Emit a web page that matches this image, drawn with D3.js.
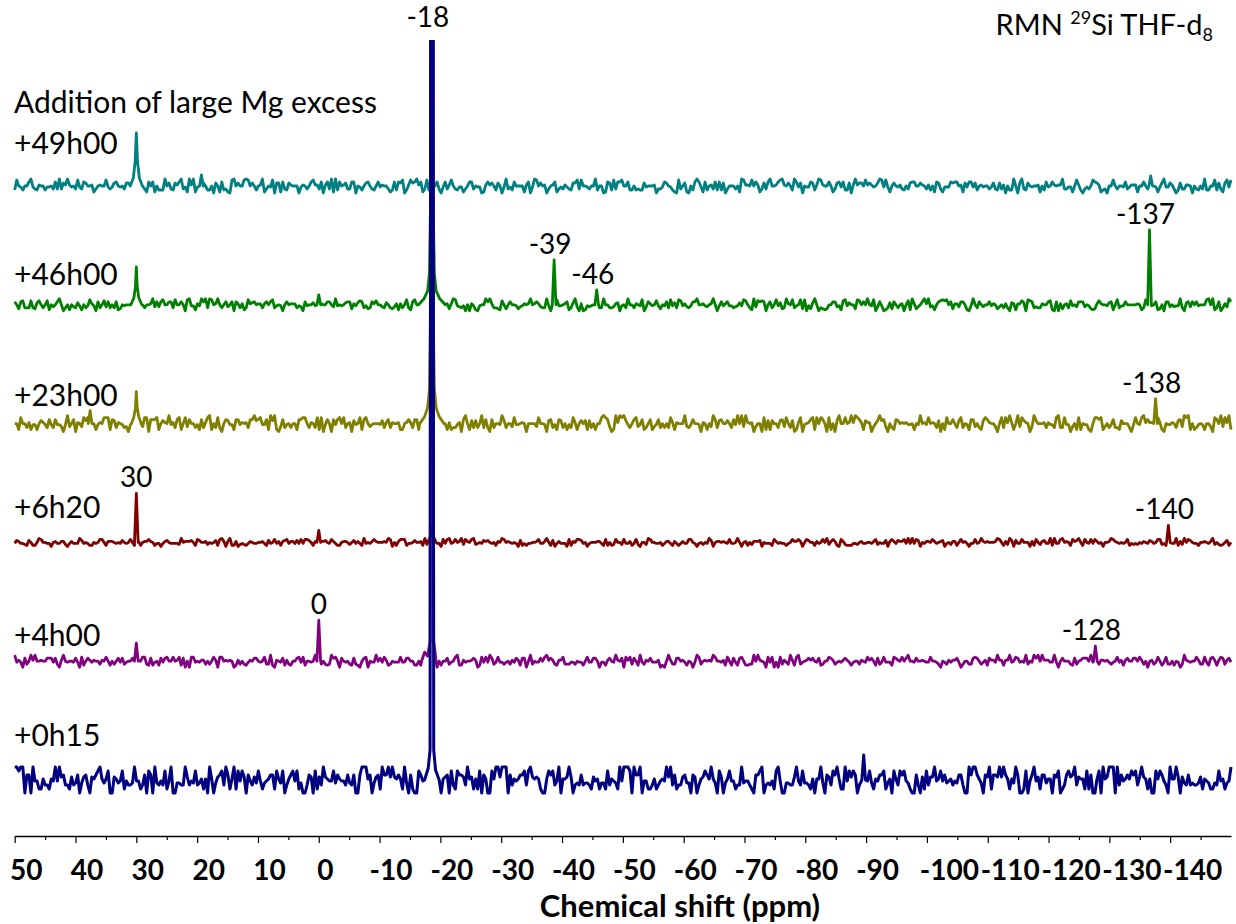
<!DOCTYPE html>
<html>
<head>
<meta charset="utf-8">
<script src="https://cdn.jsdelivr.net/npm/d3@7"></script>
<style>
  body { margin: 0; background: #fff; }
  svg { display: block; }
</style>
</head>
<body>
<svg id="chart"></svg>
<script>
// ---- data ----
const traces = ["+49h00", "+46h00", "+23h00", "+6h20", "+4h00", "+0h15"];
const ppmRange = [50, -150];
const tickValues = [50, 40, 30, 20, 10, 0, -10, -20, -30, -40, -50, -60, -70, -80, -90, -100, -110, -120, -130, -140];
const minorTicks = [45, 35, 25, 15, 5, -5, -15, -25, -35, -45, -55, -65, -75, -85, -95, -105, -115, -125, -135, -145];

// baseline noise, evenly spaced from 50 to -150 ppm (intensity units)
const noise49 = [
  -4,6,0,-1,-4,0,0,4,7,-1,-3,-4,1,0,0,-4,-1,-1,0,-3, 4,-3,7,-3,3,1,7,1,-1,0,-3,6,-1,-3,4,3,0,0,1,-6,
  -3,0,1,0,0,6,-1,-3,-1,3,4,0,-1,0,-3,3,3,6,7,6, 0,6,-7,0,-3,-6,4,0,4,-6,0,-4,-4,-4,7,0,3,-3,-4,3,
  1,4,7,-3,-1,-6,7,1,7,-6,-1,0,3,3,0,-4,-4,0,-7,3, 0,-6,4,-4,-3,-6,-7,6,7,0,3,0,0,6,7,6,0,3,0,-4,
  0,1,7,-6,-3,0,-1,6,-7,3,3,-6,4,-3,-4,3,1,0,0,0, -7,-1,1,0,-3,0,4,6,1,1,-3,4,-7,1,4,-3,7,-6,7,-4,
  4,0,1,3,-3,-3,4,4,-7,0,-1,-4,0,3,4,0,-3,-4,0,4, -1,1,0,0,-3,-6,-4,4,-4,4,3,6,-7,-4,1,6,3,4,7,1,
  4,-6,-3,6,-4,0,0,0,4,-3,-7,-1,4,-3,1,6,0,-3,-4,-1, -1,-6,-3,0,4,4,-3,0,-1,-1,-7,-6,1,4,1,3,0,-4,3,0,
  -7,-1,7,-3,-1,-4,4,0,0,0,0,-6,1,4,-7,-1,7,6,0,3, 0,1,-7,-3,0,1,4,-6,-3,-1,-3,1,-1,-3,-4,3,3,6,-3,6,
  0,0,-1,-3,0,0,7,-4,0,0,-7,-6,4,3,-4,6,-3,4,4,6, 0,0,4,-4,-4,0,-4,-3,-4,-4,3,-1,0,0,0,1,-7,-3,-3,-1,
  4,3,0,-1,-4,-6,-7,6,-3,0,3,-6,-7,0,-4,4,7,4,-1,-6, 4,-4,0,1,-3,4,-4,4,-4,3,-7,-3,0,0,0,-3,0,-6,7,6,
  1,1,0,6,0,4,1,-6,-3,3,-3,4,7,0,0,1,4,6,7,1, 0,3,0,-4,7,4,-1,3,-7,0,-1,-1,4,3,-4,1,7,6,1,0,
  0,4,0,-6,-3,3,4,-1,4,-4,-4,3,-7,1,7,1,3,3,0,6, 1,3,1,-1,0,3,7,6,-1,6,-1,-6,0,3,0,-1,1,-3,-4,0,
  -3,3,4,4,0,0,3,1,0,-3,1,-4,0,-6,4,3,-3,-6,-1,-1, -1,4,3,4,4,0,1,-6,3,-1,4,4,-1,3,-4,0,1,-1,0,0,
  -3,-1,3,-3,-4,3,-3,1,-7,0,-4,-4,7,0,-7,3,7,-3,-4,3, 0,-1,0,0,1,-6,0,-4,4,-1,0,4,1,0,1,1,7,-3,-3,-1,
  -1,-6,0,6,1,-4,-7,-3,-1,-3,0,6,4,3,1,-6,-4,-3,-7,0, 0,6,0,-3,0,0,-1,4,-3,-1,1,1,1,-6,0,0,4,0,-3,4,
  -4,0,-1,-6,-1,3,7,-1,-1,3,1,-3,-7,-4,3,-3,-3,1,1,0, -7,0,-3,-4,0,-3,7,-4,-4,0,0,6,-4,3,-3,-6,3,6,-1,6
];
const noise46 = [
  3,0,-4,3,4,-3,-3,-3,4,-3,-4,2,4,0,-3,0,4,-5,0,-2, 0,3,6,0,-6,-3,0,-5,0,-2,-3,2,-1,-5,0,-3,-1,5,1,-1,
  -6,3,-3,0,4,-2,3,-3,0,-3,3,-5,-4,0,-1,0,0,0,-3,5, 1,1,1,0,-3,0,0,1,6,-2,3,-2,3,5,0,0,3,3,-3,5,
  0,0,3,0,-6,5,6,-1,-1,-5,1,-1,6,3,6,-3,6,5,0,1, 6,0,-3,0,3,-2,0,3,-6,3,1,-3,1,-5,-3,5,1,2,3,0,
  1,1,-3,1,3,0,3,5,-3,-1,0,-1,-6,0,3,0,1,1,1,-3, -1,-2,-6,3,-1,0,0,2,-1,0,0,1,0,0,3,3,0,-2,6,-1,
  0,-1,0,2,3,3,-4,1,-1,2,4,3,-3,-1,-4,-3,3,1,4,0, 0,-2,-3,2,0,-3,-4,-2,1,-5,1,-3,0,5,-3,-5,3,5,0,-3,
  -3,0,3,0,0,1,1,0,1,3,-1,0,6,1,-4,1,6,5,-1,-2, -3,-1,-6,0,-6,1,-1,-5,-6,-1,0,0,6,3,6,1,-3,-3,-4,-5,
  4,0,-4,0,3,0,0,-1,-4,-2,-1,1,0,1,6,0,1,3,1,-2, -3,-3,6,-1,-6,-1,0,5,-1,-1,0,1,3,-5,-3,2,6,-2,-6,1,
  -6,-5,-1,-2,-1,0,0,5,-3,-3,6,0,0,-3,-3,-2,1,2,-6,-1, 0,-3,6,0,0,-3,1,0,-1,5,-6,-2,3,1,-1,0,4,-1,-4,0,
  -1,3,-3,5,-1,2,-3,5,4,-1,1,-2,-3,-1,3,3,6,0,0,1, -1,-2,0,1,6,0,-6,-1,3,-1,1,3,-1,-1,-3,-2,-1,2,-1,5,
  4,0,-3,-5,6,-2,4,3,4,3,-6,0,3,-3,0,5,-1,2,-4,-3, 6,1,0,5,-3,-1,0,5,-4,5,-6,-1,-4,2,6,0,-6,-3,-4,-5,
  -4,0,0,3,3,-2,-1,-5,4,5,-1,2,0,0,-4,5,4,0,3,0, 6,0,-1,5,-6,-2,3,-1,-6,-5,-3,2,-4,3,0,-3,0,1,-6,0,
  4,-5,6,1,-4,-2,0,3,6,1,6,-2,-1,-5,0,3,4,5,4,5, 0,3,-4,1,1,-2,3,3,0,-5,-6,-1,6,0,-3,3,0,-2,0,0,
  3,-1,1,0,-4,-2,0,-3,1,-3,-6,2,1,-5,1,1,4,2,-6,5, 4,3,-3,-2,-3,-3,1,0,0,3,4,-5,-6,3,-6,1,-4,0,1,-3,
  4,-1,0,-2,3,3,3,-2,0,-1,-4,-5,-4,1,4,1,0,0,-1,2, 3,-5,0,5,-3,-1,-1,3,0,0,0,0,0,1,0,-5,-3,5,0,0,
  -1,0,3,-5,-4,0,-6,3,3,-2,0,-2,-1,-1,6,-3,-6,2,3,-2, 3,0,3,-1,0,0,0,5,6,0,6,-5,-3,3,-6,-3,1,-2,6,3
];
const noise23 = [
  0,0,-6,6,0,0,-4,1,-6,-1,-1,-6,0,3,1,-1,-4,4,-1,-4, 4,-1,-1,-3,-8,-1,8,-3,0,4,-8,1,0,-3,6,3,6,6,-8,0,
  -6,-1,1,0,6,6,6,-6,4,3,-4,1,0,-1,-4,-3,-8,-1,8,-1, 1,4,8,-3,6,6,-8,4,4,4,6,-6,0,3,1,0,8,-1,1,-4,
  4,6,-6,0,6,-3,4,0,0,-4,-1,-6,4,-4,1,6,8,-6,0,-4, 6,-4,-8,0,4,3,-1,-1,-6,4,4,-1,1,0,1,-4,4,4,8,3,
  4,6,-1,-1,4,-6,8,3,8,-6,-8,-3,4,-4,-1,0,-4,0,0,-6, 4,4,6,6,0,-4,1,0,-4,6,-6,6,-8,-1,4,0,-8,4,-1,4,
  6,0,6,-4,0,1,-8,3,-1,0,6,-6,4,6,0,-3,-1,0,0,0, -1,3,-4,1,4,-4,1,0,0,1,-6,-6,0,1,4,1,-4,4,4,-6,
  -1,4,0,-3,-8,-3,-6,1,-1,0,6,4,0,-6,1,-6,-4,-4,-1,1, -8,4,8,0,-6,3,-4,3,-4,0,8,-4,4,-4,-8,4,-4,0,0,-1,
  8,3,-4,0,0,-3,6,-1,-1,0,1,0,-8,0,0,0,0,-3,6,0, 0,-1,-8,3,4,-4,-1,-6,4,3,-4,0,-6,-1,-4,6,1,-6,0,3,
  0,3,-6,3,-4,0,-6,0,0,6,8,6,4,-3,-8,-6,8,1,8,6, 8,3,-1,-4,0,4,6,-3,-1,4,-6,-4,0,4,-6,-3,-1,4,-4,0,
  -4,0,-4,6,1,-6,1,0,0,0,8,-3,-4,-1,4,0,0,-1,-8,1, 0,-6,0,-3,8,4,-4,3,4,0,0,3,0,-4,4,-1,8,0,8,-3,
  8,1,0,1,-8,-3,0,0,-8,6,-6,3,-6,3,0,0,-4,3,4,-3, 6,0,-4,3,-8,-6,1,6,-8,-1,0,1,4,6,-6,6,0,6,4,0,
  -8,6,-6,0,-8,3,8,0,0,6,0,1,8,1,8,6,4,1,-6,3, 1,1,-8,-3,0,3,8,3,4,-3,-8,0,-4,-6,4,3,0,1,0,1,
  -1,-1,0,-6,0,-1,8,0,1,-1,6,0,1,0,-4,3,-8,0,-6,6, 0,0,4,0,-4,3,6,-4,0,-1,-6,4,4,-3,0,-4,-6,3,6,4,
  1,0,0,-3,-8,0,6,-4,6,1,8,1,-6,0,8,-3,6,3,1,0, -8,-3,8,3,0,0,0,1,-4,1,-1,-1,-4,6,8,-4,-4,6,-1,-1,
  -8,-3,0,-6,6,-6,0,-1,-1,-6,-8,0,6,6,4,6,-6,-3,0,-4, -1,4,-4,-4,-6,3,0,0,0,-4,-8,-1,6,0,-1,6,8,1,4,1,
  1,-3,-4,6,1,-6,-8,0,-1,-1,1,0,-4,3,4,-3,8,6,8,-6, 0,-6,-4,-1,0,-1,-6,0,0,-3,-8,6,4,0,8,-3,6,1,8,-6
];
const noise6 = [
  -1,2,1,-1,-1,-2,-3,2,0,-3,-3,0,4,3,0,0,-1,-1,-4,0, 1,-1,-1,1,1,-2,-4,-1,1,-1,-1,-1,4,2,-1,0,-1,-3,-3,0,
  -1,0,3,3,0,-3,1,1,1,0,-1,0,-1,2,0,-1,0,3,0,-3, -4,1,-3,0,1,1,3,1,0,-3,-1,-1,-4,-1,1,2,0,-1,-1,-1,
  -1,-2,4,0,1,1,1,2,0,-3,3,2,0,0,1,-2,0,-1,0,2, -3,3,4,1,-4,1,4,-3,-3,1,-4,-2,-1,-2,-3,-1,1,0,-1,-1,
  0,0,1,-1,-3,2,-1,0,3,-1,1,-3,1,2,3,-1,1,1,-1,2, -1,3,-1,3,3,2,0,-3,1,-1,0,1,1,2,0,-1,3,1,-1,-3,
  -3,0,1,1,0,-2,0,2,-1,1,-1,-3,4,-1,0,-1,1,3,1,0, 0,0,1,0,4,3,-4,0,-3,1,3,3,3,-3,-1,-1,0,2,0,0,
  1,-3,4,-2,-3,0,3,1,-1,-1,-4,3,-1,3,4,-1,0,3,0,1, 4,-2,3,1,0,3,4,-2,-1,0,-1,2,1,2,0,-1,0,-3,1,0,
  4,3,0,1,0,-1,0,-1,-4,2,-3,-1,-3,-1,-1,0,0,1,3,-1, -1,1,4,0,-3,2,-4,-1,1,-1,-1,-1,-4,3,-3,1,0,3,3,2,
  -1,0,-4,-1,0,0,0,1,1,-1,-3,3,-3,0,-3,-2,3,0,0,-2, 3,-1,-1,1,-3,-1,3,-2,-4,0,0,-2,4,3,0,0,-1,-1,0,-3,
  -1,1,1,-1,-3,1,-1,-3,-1,1,-1,-1,3,3,0,-1,-4,-1,0,-2, 0,-1,4,2,-4,0,1,1,0,1,0,-1,3,-1,-1,0,4,0,-4,0,
  1,-3,0,-2,1,1,1,2,-4,0,-1,-1,-1,-3,3,1,-1,0,-1,-1, -3,-1,0,3,1,1,3,1,-4,0,3,2,0,0,-3,1,-1,0,3,0,
  4,-2,1,3,1,-3,-4,3,1,-2,-3,-3,-3,-1,-1,-2,0,1,-1,-1, 0,0,-1,1,3,-2,0,-1,-1,2,-4,1,3,1,-1,2,1,1,3,-1,
  4,-1,4,-1,3,2,-4,0,-1,1,1,0,3,1,-1,0,1,2,-4,-1, 0,-2,1,1,-3,0,3,0,1,-1,-4,-1,-1,3,-1,0,4,1,0,1,
  0,0,0,1,4,3,0,-3,1,-2,4,2,-4,2,-1,-1,3,0,0,0, -4,1,-3,3,0,-2,1,2,-1,-1,4,-3,4,-1,-1,3,4,0,1,0,
  -3,3,1,2,4,0,-3,3,0,-1,3,-1,3,1,-1,0,-4,0,0,1, 4,3,1,0,-1,0,-1,0,3,-3,-1,-2,-1,-2,0,-1,1,0,-1,2,
  1,-1,0,3,3,-2,-1,-3,-1,1,-1,-1,4,-3,1,-2,4,0,3,2, 0,-1,-1,-3,0,0,1,0,-1,1,4,-2,0,-2,-3,-2,0,2,-3,0
];
const noise4 = [
  6,-1,1,-1,-6,3,-3,0,6,1,6,0,0,1,0,0,3,3,3,-1, 3,-3,-6,1,6,0,-1,0,0,-1,3,-1,-6,4,-4,0,3,1,-1,1,
  0,0,-3,1,0,4,0,-4,0,-3,0,3,-1,3,-3,-1,0,0,3,0, -1,1,0,4,4,-3,-4,3,-4,-1,0,-4,3,-1,3,4,0,0,4,0,
  1,4,-4,3,-6,0,-6,4,4,-1,0,-1,1,1,-3,0,-3,0,4,1, -6,4,4,0,1,0,1,0,-6,-4,1,-3,0,-3,-4,-1,1,0,3,3,
  0,-1,0,4,-3,-3,6,-4,-6,1,0,-1,3,-4,1,-3,-4,0,0,3, 4,-1,4,-4,0,0,-1,0,6,1,6,-3,0,-3,-4,-3,6,3,4,0,
  -6,3,0,-1,0,-3,-4,3,-3,-4,-6,0,3,4,-6,0,-1,-1,6,0, 3,-1,4,1,-4,-3,0,-1,-1,-1,4,-1,-1,3,3,0,0,-4,-4,0,
  -4,0,-6,4,6,-4,-4,1,-6,0,-4,0,0,3,-3,-1,0,4,6,-4, -4,1,-1,0,0,1,3,1,-6,-4,4,-1,4,-1,6,3,-3,-1,4,-1,
  -1,-3,-1,0,-3,1,-1,3,1,-4,3,3,-6,0,6,-3,0,-1,-1,3, 0,4,6,1,3,1,-3,-4,1,1,4,-3,-3,-3,-1,-1,-3,0,-1,-1,
  -4,0,4,-1,-1,3,3,0,-6,-1,-1,-4,1,3,0,-1,6,1,0,3, -6,4,1,4,-3,3,0,-4,6,-1,-3,1,0,3,-1,-1,-1,1,-6,-4,
  -6,0,6,1,-3,-3,3,3,0,1,-1,-4,0,-1,-6,-1,6,4,-3,0, 1,0,1,0,6,4,0,0,-1,1,-4,4,0,-4,3,-1,-4,3,4,0,
  -4,-4,-3,-3,6,0,6,1,0,-1,-6,4,-1,4,-6,-1,-6,4,-3,1, -1,-3,6,1,-4,4,6,-3,-1,0,1,3,1,3,0,-1,3,-4,-3,0,
  0,4,3,1,-3,-1,0,-1,1,3,1,-1,-4,-1,0,0,-3,1,0,-1, 4,1,3,0,-4,3,-3,-1,4,-1,-1,-1,-4,4,3,1,0,4,0,3,
  6,0,0,-1,3,0,0,1,0,-1,-1,4,0,0,-1,-3,-6,0,-1,-3, 1,-1,1,1,3,-1,-6,-3,0,0,-3,-3,3,4,3,0,-3,-1,1,-4,
  3,1,1,-1,6,1,1,-4,1,1,6,-1,0,4,3,-1,0,-1,6,-3, 0,-1,6,3,6,0,6,1,1,1,-1,-1,6,-1,-6,0,3,0,0,0,
  -3,-4,3,-3,0,1,3,3,3,0,6,-1,0,-4,-3,1,1,0,1,-1, -3,-1,0,4,-1,1,-4,1,3,0,0,3,3,0,4,1,-3,0,-6,0,
  1,-3,-1,4,0,-4,-1,4,-3,-3,0,-4,0,-1,-6,-3,6,1,0,-1, 0,0,4,1,-3,-3,4,-1,-4,3,4,1,-4,1,4,3,-3,1,3,-1
];
const noise0 = [
  13,13,9,13,13,-13,5,5,-13,13,-1,-1,-9,-9,1,-5,-5,-9,1,-1, 13,-1,13,3,5,-5,-5,-9,3,-5,-3,5,-13,-3,3,5,-5,-13,3,1,
  5,9,13,1,-3,1,9,-13,-13,3,1,-3,-1,9,-9,-1,-5,-5,-3,13, -1,-1,-9,-5,5,-13,9,5,-13,13,-3,-5,-1,-5,9,-9,-1,13,-13,-13,
  -3,-3,-5,-5,13,3,-5,-1,-3,9,-5,-3,1,-9,1,-13,13,1,-13,-3, 3,5,9,-5,13,5,-9,1,13,-9,9,-1,9,3,-13,5,-1,-5,3,-3,
  9,-1,-9,-3,-1,1,5,5,-9,9,1,-3,9,-13,-5,1,5,9,-1,9, -9,-3,-13,-13,-5,5,3,-13,9,-9,3,-5,13,3,1,-1,-1,9,-3,5,
  1,-1,-1,-5,5,-3,-5,5,-13,-13,5,13,13,13,1,5,-13,-3,3,5, -9,13,5,5,13,3,13,3,1,5,1,-9,13,-3,-13,5,-9,-13,-13,9,
  5,-1,-1,13,-9,3,5,5,1,-3,-13,1,3,5,-13,9,-5,-9,9,5, 5,3,-5,13,1,3,-9,1,-9,9,-13,5,1,-13,-13,9,1,13,13,3,
  13,13,13,-13,5,-5,1,-1,1,5,5,9,-5,9,13,3,1,3,1,-9, -13,-13,1,9,5,9,-5,-1,13,-13,1,1,3,13,3,-13,-5,-3,-5,5,
  -5,-3,-3,-5,-9,3,-1,1,-9,-3,-3,-9,9,-5,1,-1,-3,-9,13,-1, 13,13,13,9,-13,13,5,5,13,-13,-1,-1,-9,-9,-5,1,-9,-5,-1,1,
  -1,13,3,13,-5,5,-9,-5,-5,3,5,-3,-3,-13,5,3,-13,-5,1,3, 9,5,1,13,1,-3,-13,9,3,-13,-3,1,9,-1,-1,-9,-5,-5,13,-3,
  -1,-1,-5,-9,-13,5,5,9,13,-13,-5,-3,-5,-1,-9,9,13,-1,-13,-13, -3,-3,-5,-5,3,13,-1,-5,9,-3,-3,-5,-9,1,-13,1,1,13,-3,-13,
  5,3,-5,9,5,13,1,-9,-9,13,-1,9,3,9,5,-13,-5,-1,-3,3, -1,9,-3,-9,1,-1,5,5,9,-9,-3,1,-13,9,1,-5,9,5,9,-1,
  -3,-9,-13,-13,5,-5,-13,3,-9,9,-5,3,3,13,-1,1,9,-1,5,-3, -1,1,-5,-1,-3,5,5,-5,-13,-13,13,5,13,13,5,1,-3,-13,5,3,
  13,-9,5,5,3,13,3,13,5,1,-9,1,-3,13,5,-13,-13,-9,9,-13, -1,5,13,-1,3,-9,5,5,-3,1,1,-13,5,3,9,-13,-9,-5,5,9,
  3,5,13,-5,3,1,1,-9,9,-9,5,-13,-13,1,9,-13,13,1,3,13, 13,13,-13,13,-5,5,-1,1,5,1,9,5,9,-5,3,13,3,1,-9,1,
  -13,-13,9,1,9,5,-1,-5,-13,13,1,1,13,3,-13,3,-3,-5,5,-5, -3,-5,-5,-3,3,-9,1,-1,-3,-9,-9,-3,-5,9,-1,1,-9,-3,-1,13
];

// resolved peaks: [ppm, intensity] points
const peaks49 = [
  [[31.0,0],[30.5,8],[30.2,24],[30.0,53],[29.8,24],[29.5,8],[29.0,0]],
  [[19.6,0],[19.3,11],[19.0,0]],
  [[-18.3,0],[-18.6,6],[-18.9,0]],
  [[-136.5,0],[-136.8,10],[-137.1,0]]
];
const peaks46 = [
  [[30.9,0],[30.4,7],[30.15,18],[30.0,38],[29.85,18],[29.6,7],[29.1,0]],
  [[0.3,0],[0.0,10],[-0.3,0]],
  [[-16.4,0],[-17.3,6],[-17.9,14],[-18.2,32],[-18.4,110],[-18.6,2000],[-18.8,110],[-19.0,32],[-19.3,14],[-19.9,6],[-20.8,0]],
  [[-38.4,0],[-38.7,45],[-39.0,0]],
  [[-45.4,0],[-45.7,15],[-46.0,0]],
  [[-136.3,0],[-136.6,75],[-136.9,0]]
];
const peaks23 = [
  [[37.9,0],[37.6,13],[37.3,0]],
  [[30.8,0],[30.4,7],[30.15,15],[30.0,32],[29.85,15],[29.6,7],[29.2,0]],
  [[-16.6,0],[-17.4,7],[-17.9,16],[-18.2,35],[-18.4,120],[-18.6,2000],[-18.8,120],[-19.0,35],[-19.3,16],[-19.8,7],[-20.6,0]],
  [[-137.3,0],[-137.6,25],[-137.9,0]]
];
const peaks6 = [
  [[30.3,0],[30.0,49],[29.7,0]],
  [[0.3,0],[0.0,12],[-0.3,0]],
  [[-17.9,0],[-18.3,5],[-18.6,15],[-18.9,5],[-19.3,0]],
  [[-139.4,0],[-139.7,17],[-140.0,0]]
];
const peaks4 = [
  [[30.3,0],[30.0,18],[29.7,0]],
  [[0.3,0],[0.0,41],[-0.3,0]],
  [[-16.9,0],[-17.4,9],[-17.9,5],[-18.3,20],[-18.6,2000],[-18.9,20],[-19.3,0]],
  [[-127.4,0],[-127.7,15],[-128.0,0]]
];
const peaks0 = [
  [[-17.4,0],[-18.0,12],[-18.3,30],[-18.6,2000],[-18.9,30],[-19.2,10],[-19.8,0]],
  [[-89.3,0],[-89.6,25],[-89.9,0]]
];

const noiseByTrace = [noise49, noise46, noise23, noise6, noise4, noise0];
const peaksByTrace = [peaks49, peaks46, peaks23, peaks6, peaks4, peaks0];

const annotations = [
  { trace: "+0h15",  ppm: -18.6,  text: "-18" },
  { trace: "+46h00", ppm: -38.7,  text: "-39" },
  { trace: "+46h00", ppm: -45.7,  text: "-46" },
  { trace: "+46h00", ppm: -136.6, text: "-137" },
  { trace: "+23h00", ppm: -137.6, text: "-138" },
  { trace: "+6h20",  ppm: 30.0,   text: "30" },
  { trace: "+6h20",  ppm: -139.7, text: "-140" },
  { trace: "+4h00",  ppm: 0.0,    text: "0" },
  { trace: "+4h00",  ppm: -127.7, text: "-128" }
];

// ---- layout / style ----
const W = 1236, H = 924;
const colors = ["#008080", "#008000", "#808000", "#800000", "#800080", "#000080"];
const labelRise = [32, 20, 18, 24, 15, 34];
const FONT = "Lato, 'Open Sans', sans-serif";
const plotTop = 40, axisY = 836;

const svg = d3.select("#chart").attr("width", W).attr("height", H);

const x = d3.scaleLinear().domain(ppmRange).range([14.7, 1231]);
const base = d3.scalePoint().domain(traces).range([186, 780]);
const yI = d3.scaleLinear().domain([0, 100]).range([0, 100]);

svg.append("defs").append("clipPath").attr("id", "plotClip")
  .append("rect").attr("x", 0).attr("y", plotTop).attr("width", W).attr("height", axisY - plotTop);

// merge evenly spaced noise with the resolved peak points
function buildSeries(noise, peaks) {
  const step = (ppmRange[0] - ppmRange[1]) / (noise.length - 1);
  const spans = peaks.map(p => d3.extent(p, d => d[0]));
  const pts = noise.map((v, i) => [ppmRange[0] - i * step, v])
    .filter(d => !spans.some(([lo, hi]) => d[0] >= lo && d[0] <= hi));
  peaks.forEach(p => pts.push(...p));
  return pts.sort((a, b) => b[0] - a[0]);
}

const plot = svg.append("g").attr("clip-path", "url(#plotClip)");

traces.forEach((t, i) => {
  const series = buildSeries(noiseByTrace[i], peaksByTrace[i]);
  plot.append("path").datum(series)
    .attr("d", d3.line().x(d => x(d[0])).y(d => base(t) - yI(d[1])))
    .attr("fill", "none")
    .attr("stroke", colors[i])
    .attr("stroke-width", i === 5 ? 3 : 2.8)
    .attr("stroke-linejoin", "round");

  svg.append("text")
    .attr("x", 14).attr("y", base(t) - labelRise[i])
    .style("font-family", FONT).style("font-size", "30px").style("fill", "#000")
    .text(t);
});

svg.append("text")
  .attr("x", 14).attr("y", 113)
  .style("font-family", FONT).style("font-size", "30px").style("fill", "#000")
  .text("Addition of large Mg excess");

// peak annotations
annotations.forEach(a => {
  const i = traces.indexOf(a.trace);
  const grp = peaksByTrace[i].find(p => {
    const [lo, hi] = d3.extent(p, d => d[0]);
    return a.ppm >= lo && a.ppm <= hi;
  });
  const h = d3.max(grp, d => d[1]);
  const top = base(a.trace) - yI(h);
  const clipped = top < plotTop;
  svg.append("text")
    .attr("x", x(a.ppm) + (a.text.startsWith("-") ? -4 : 0))
    .attr("y", clipped ? plotTop - 13 : top - 6)
    .attr("text-anchor", "middle")
    .style("font-family", FONT).style("font-size", "28px").style("fill", "#000")
    .text(a.text);
});

// title
const title = svg.append("text")
  .attr("x", 1213).attr("y", 35).attr("text-anchor", "end")
  .style("font-family", FONT).style("font-size", "29px").style("fill", "#000");
title.append("tspan").text("RMN ");
title.append("tspan").attr("dy", -11).style("font-size", "18px").text("29");
title.append("tspan").attr("dy", 11).text("Si THF-d");
title.append("tspan").attr("dy", 6).style("font-size", "18px").text("8");

// x axis: minor ticks, then major ticks with labels
const labelShift = { 1: 6, 2: 11, 3: 11, 4: 22 };
svg.append("g")
  .attr("transform", `translate(0,${axisY})`)
  .call(d3.axisBottom(x).tickValues(minorTicks).tickSize(4).tickSizeOuter(0).tickFormat(""))
  .call(ax => {
    ax.select(".domain").attr("stroke", "#000").attr("stroke-width", 1.4);
    ax.selectAll(".tick line").attr("stroke", "#000").attr("stroke-width", 1.2);
  });
svg.append("g")
  .attr("transform", `translate(0,${axisY})`)
  .call(d3.axisBottom(x).tickValues(tickValues).tickSize(7).tickSizeOuter(0).tickFormat(d => String(d)))
  .call(ax => {
    ax.select(".domain").remove();
    ax.selectAll(".tick line").attr("stroke", "#000").attr("stroke-width", 1.2);
    ax.selectAll(".tick text")
      .attr("y", 44).attr("dy", 0)
      .attr("dx", d => labelShift[String(d).length])
      .style("font-family", FONT).style("font-size", "28px").style("font-weight", "bold").style("fill", "#000");
  });

svg.append("text")
  .attr("x", 680).attr("y", 917).attr("text-anchor", "middle")
  .style("font-family", FONT).style("font-size", "31px").style("font-weight", "bold").style("fill", "#000")
  .text("Chemical shift (ppm)");
</script>
</body>
</html>
